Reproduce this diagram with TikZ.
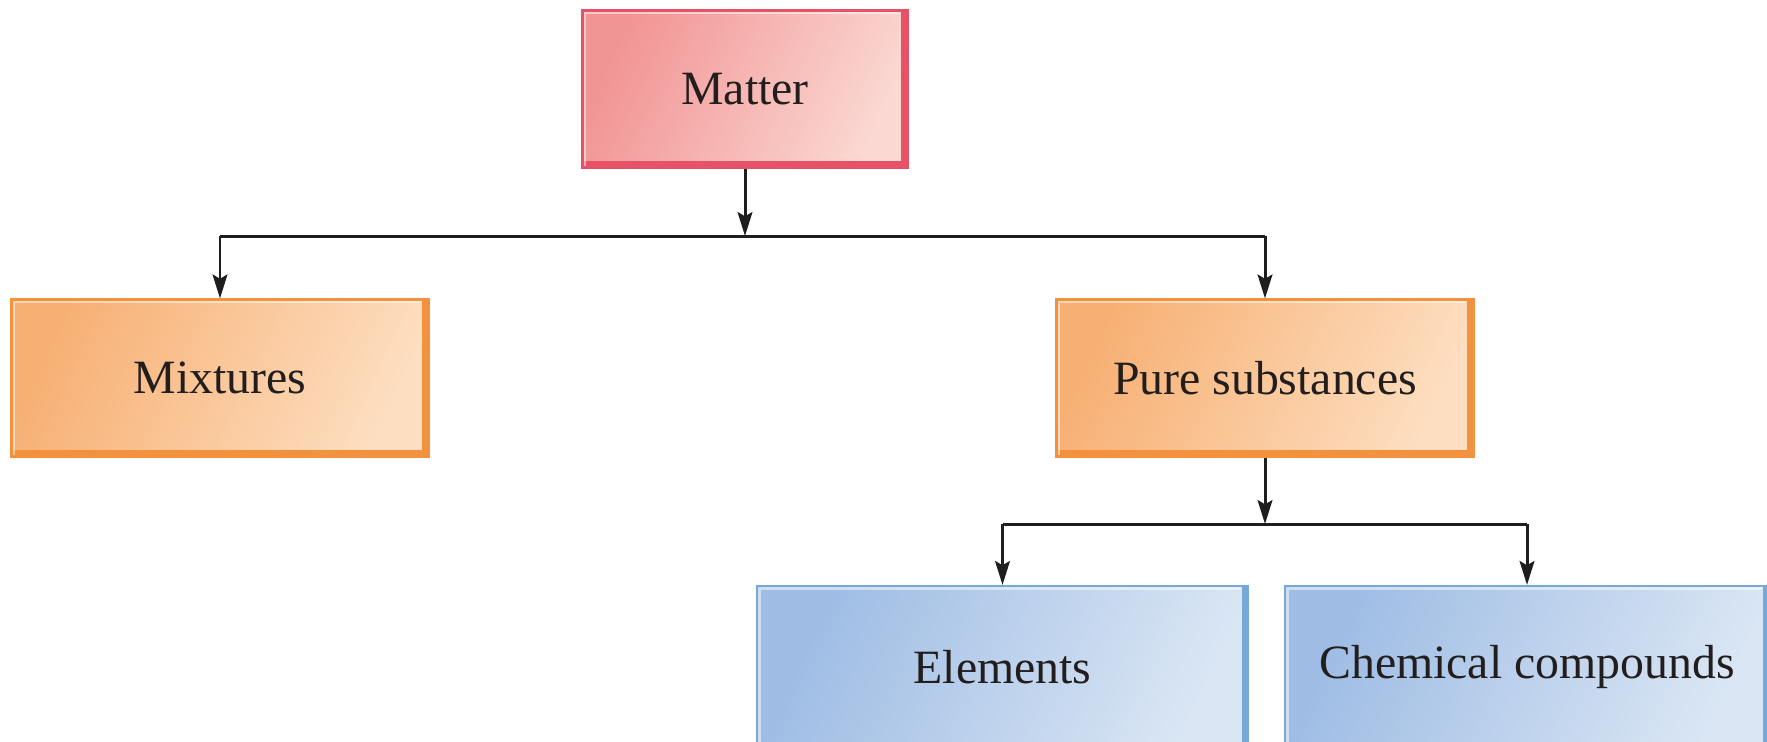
\documentclass[tikz,border=0pt]{standalone}
\usepackage{fontspec}
\setmainfont{Liberation Serif}
\usepackage{xcolor}
\usepackage{tikz}
\usetikzlibrary{arrows.meta}

\definecolor{matterline}{RGB}{232,82,104}
\definecolor{matterdark}{RGB}{241,148,148}
\definecolor{matterlight}{RGB}{251,216,210}
\definecolor{orangeline}{RGB}{242,146,62}
\definecolor{orangedark}{RGB}{247,176,116}
\definecolor{orangelight}{RGB}{253,222,192}
\definecolor{blueline}{RGB}{118,168,218}
\definecolor{bluedark}{RGB}{158,188,228}
\definecolor{bluelight}{RGB}{218,230,244}
\definecolor{inktext}{RGB}{35,30,30}
\definecolor{inkline}{RGB}{30,30,30}

\tikzset{
  catbox/.style n args={3}{draw=#1, line width=0.6pt, left color=#2, right color=#3,
    shading angle=65,
    minimum height=1.57cm, text=inktext, font=\fontsize{13.6}{16}\selectfont,
    path picture={
      \draw[#1, line width=3.6pt] (path picture bounding box.south west)
        -- (path picture bounding box.south east) -- (path picture bounding box.north east);
      \draw[white, opacity=0.5, line width=2pt] ([yshift=-2pt]path picture bounding box.south west)
        -- (path picture bounding box.north west) -- ([xshift=-2pt]path picture bounding box.north east);
    }},
  matterbox/.style={catbox={matterline}{matterdark}{matterlight}},
  orangebox/.style={catbox={orangeline}{orangedark}{orangelight}},
  bluebox/.style={catbox={blueline}{bluedark}{bluelight}, minimum height=1.62cm},
  link/.style={color=inkline, line width=0.85pt},
  >={Stealth[length=6.8pt,width=4.2pt,inset=1.2pt]}
}

\begin{document}
\begin{tikzpicture}
\useasboundingbox (0,0) rectangle (17.67,-7.41);
%%%%% Boxes %%%%%
\node[matterbox, minimum width=3.25cm] (matter) at (7.45,-0.89) {Matter};
\node[orangebox, minimum width=4.17cm] (mix) at (2.20,-3.78) {Mixtures};
\node[orangebox, minimum width=4.17cm] (pure) at (12.65,-3.78) {Pure substances};
\node[bluebox, minimum width=4.91cm] (elem) at (10.025,-6.67) {Elements};
\node[bluebox, minimum width=4.84cm] (chem) at (15.27,-6.67) {Chemical compounds};
%%%%% Links %%%%%
\coordinate (split) at (7.45,-2.36);
\coordinate (subsplit) at (12.65,-5.24);
\draw[link,->] (matter) -- (split);
\draw[link] (mix |- split) -- (pure |- split);
\draw[link,->] (mix |- split) -- (mix);
\draw[link,->] (pure |- split) -- (pure);
\draw[link,->] (pure) -- (subsplit);
\draw[link] (elem |- subsplit) -- (chem |- subsplit);
\draw[link,->] (elem |- subsplit) -- (elem);
\draw[link,->] (chem |- subsplit) -- (chem);
\end{tikzpicture}
\end{document}
